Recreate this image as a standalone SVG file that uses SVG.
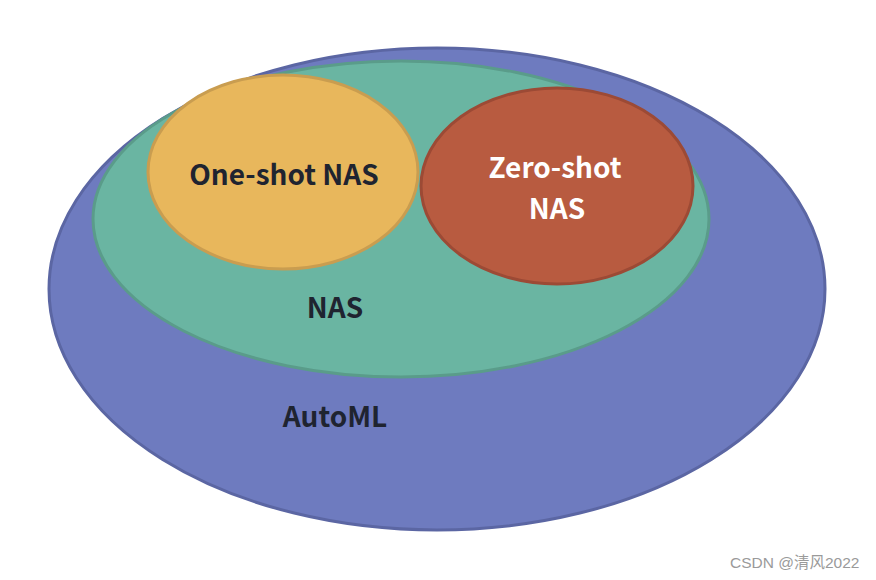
<svg xmlns="http://www.w3.org/2000/svg" width="876" height="580" viewBox="0 0 876 580">
<style>
.lbl{font-family:"Noto Sans CJK SC","Noto Sans",sans-serif;font-weight:bold;font-size:28px;text-anchor:middle;fill:#1f2430}
.wht{fill:#ffffff}
.wm{font-family:"Liberation Sans","Noto Sans CJK SC",sans-serif;font-size:15.5px;fill:#9a9a9a}
</style>
<rect width="876" height="580" fill="#ffffff"/>
<g id="automl">
<ellipse cx="437" cy="289" rx="388" ry="241" fill="#6e7bbf" stroke="#5b66a3" stroke-width="3"/>
<text class="lbl" x="335" y="427">AutoML</text>
</g>
<g id="nas">
<ellipse cx="401" cy="219" rx="308" ry="158" fill="#6ab5a2" stroke="#5a9c8a" stroke-width="3"/>
<text class="lbl" x="335" y="318">NAS</text>
</g>
<g id="oneshot">
<ellipse cx="283" cy="172" rx="135" ry="97" fill="#e8b75c" stroke="#c99d50" stroke-width="3"/>
<text class="lbl" x="284" y="185">One-shot NAS</text>
</g>
<g id="zeroshot">
<ellipse cx="557" cy="186" rx="136" ry="98" fill="#b85b40" stroke="#9c4a35" stroke-width="3"/>
<text class="lbl wht" x="555" y="178">Zero-shot</text>
<text class="lbl wht" x="557" y="219">NAS</text>
</g>
<g id="connectors"></g>
<text class="wm" x="730" y="568">CSDN @清风2022</text>
</svg>
